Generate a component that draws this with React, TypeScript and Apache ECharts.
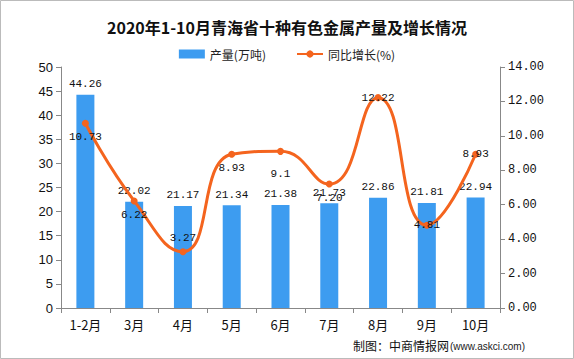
import React, { useEffect, useRef } from "react";
import * as echarts from "echarts";

const categories = ["1-2月", "3月", "4月", "5月", "6月", "7月", "8月", "9月", "10月"];
const output = [44.26, 22.02, 21.17, 21.34, 21.38, 21.73, 22.86, 21.81, 22.94];
const growth = [10.73, 6.22, 3.27, 8.93, 9.1, 7.2, 12.22, 4.81, 8.93];
const growthLabels = ["10.73", "6.22", "3.27", "8.93", "9.1", "7.20", "12.22", "4.81", "8.93"];
const growthLabelPos = ["bottom", "bottom", "top", "bottom", "bottom", "bottom", "inside", "inside", "inside"];
const leftTicks = [0, 50, 5];
const rightTicks = [0, 14, 2];

const MONO = "'Liberation Mono', 'Noto Sans CJK SC', monospace";

export default function App() {
  const ref = useRef<HTMLDivElement>(null);
  useEffect(() => {
    document.body.style.margin = "0";
    const chart = echarts.init(ref.current!, null, { renderer: "svg" });
    chart.setOption({
      animation: false,
      backgroundColor: "#ffffff",
      title: {
        text: "2020年1-10月青海省十种有色金属产量及增长情况",
        left: "center",
        top: 14,
        textStyle: { fontSize: 16, fontWeight: "bold", color: "#111", fontFamily: "'Noto Sans CJK SC', serif" },
      },
      legend: {
        top: 43,
        left: "center",
        itemGap: 30,
        itemWidth: 26,
        itemHeight: 9,
        textStyle: { fontSize: 12, color: "#222", fontFamily: "'Noto Sans CJK SC', sans-serif" },
        data: [
          { name: "产量(万吨)", icon: "rect" },
          { name: "同比增长(%)" },
        ],
      },
      graphic: [
        {
          type: "rect",
          shape: { x: 0.5, y: 0.5, width: 573, height: 358 },
          style: { fill: "none", stroke: "#bbbbbb", lineWidth: 1 },
          silent: true,
        },
        {
          type: "text",
          right: 40,
          bottom: 6,
          style: {
            text: "制图：中商情报网",
            fontSize: 12,
            fill: "#111",
            fontFamily: "'Noto Sans CJK SC', sans-serif",
          },
        },
      ],
      grid: { left: 61, right: 74, top: 67, bottom: 51 },
      xAxis: {
        type: "category",
        data: categories,
        axisLine: { lineStyle: { color: "#888" } },
        axisTick: { show: true, lineStyle: { color: "#888" } },
        axisLabel: { fontSize: 13, color: "#111", margin: 10, fontFamily: "'Noto Sans CJK SC', sans-serif" },
      },
      yAxis: [
        {
          type: "value",
          min: leftTicks[0],
          max: leftTicks[1],
          interval: leftTicks[2],
          axisLine: { show: true, lineStyle: { color: "#888" } },
          axisTick: { show: true, lineStyle: { color: "#888" } },
          splitLine: { show: false },
          axisLabel: { fontSize: 13, color: "#111", fontFamily: "'Liberation Sans', Arial, sans-serif" },
        },
        {
          type: "value",
          min: rightTicks[0],
          max: rightTicks[1],
          interval: rightTicks[2],
          position: "right",
          axisLine: { show: true, lineStyle: { color: "#888" } },
          axisTick: { show: true, lineStyle: { color: "#888" } },
          splitLine: { show: false },
          axisLabel: {
            fontSize: 12,
            color: "#111",
            fontFamily: MONO,
            formatter: (v: number) => v.toFixed(2),
          },
        },
      ],
      series: [
        {
          name: "产量(万吨)",
          type: "bar",
          data: output,
          barWidth: 18,
          itemStyle: { color: "#3d9cf0" },
          label: {
            show: true,
            position: "top",
            fontSize: 11,
            color: "#111",
            fontFamily: MONO,
            formatter: (p: any) => p.value.toFixed(2),
          },
        },
        {
          name: "同比增长(%)",
          type: "line",
          yAxisIndex: 1,
          smooth: 0.5,
          symbol: "circle",
          symbolSize: 7,
          lineStyle: { color: "#f4641e", width: 3 },
          itemStyle: { color: "#f4641e" },
          data: growth.map((v, i) => ({
            value: v,
            label: {
              show: true,
              position: growthLabelPos[i],
              distance: i === 4 ? 14 : 5,
              formatter: growthLabels[i],
              fontSize: 11,
              color: "#111",
              fontFamily: MONO,
            },
          })),
        },
      ],
    });
    // footer url part
    chart.setOption({
      graphic: [
        {
          type: "rect",
          shape: { x: 0.5, y: 0.5, width: 573, height: 358 },
          style: { fill: "none", stroke: "#bbbbbb", lineWidth: 1 },
          silent: true,
        },
        {
          type: "text",
          left: 353,
          top: 339,
          style: {
            text: "制图：中商情报网",
            fontSize: 12,
            fill: "#111",
            fontFamily: "'Noto Sans CJK SC', sans-serif",
          },
        },
        {
          type: "text",
          left: 450,
          top: 341,
          style: {
            text: "(www.askci.com)",
            fontSize: 10,
            fill: "#222",
            fontFamily: "'Liberation Sans', Arial, sans-serif",
          },
        },
      ],
    }, { replaceMerge: ["graphic"] });
    return () => chart.dispose();
  }, []);
  return <div ref={ref} style={{ width: 574, height: 359 }} />;
}
